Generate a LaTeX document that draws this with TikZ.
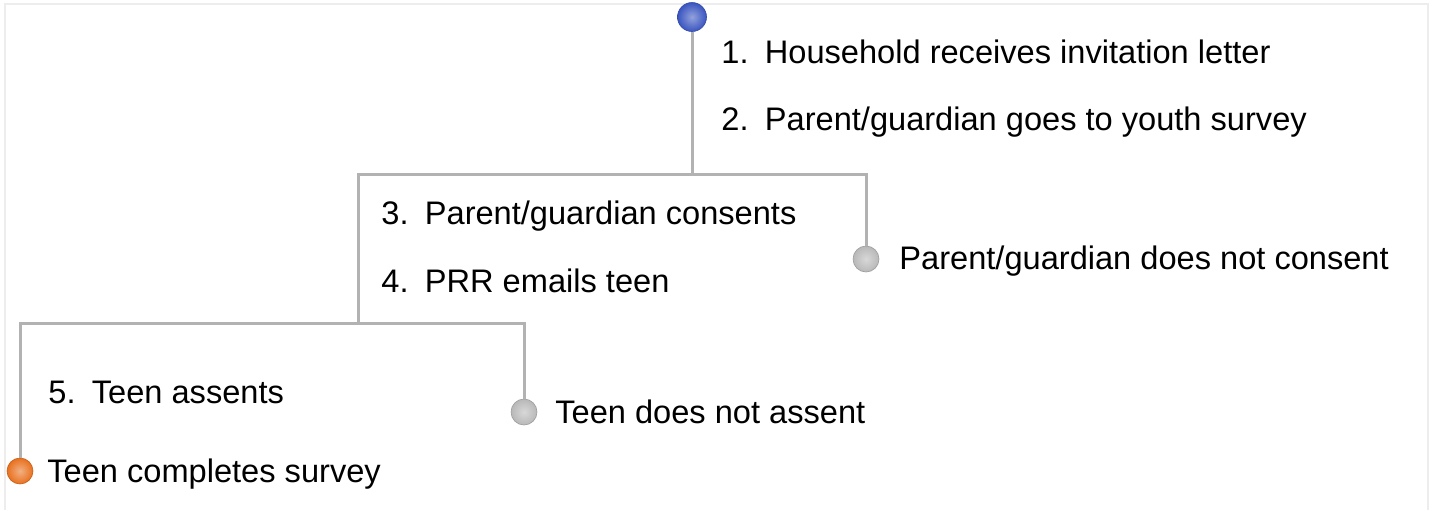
\documentclass[tikz,border=0pt]{standalone}
\usepackage{fontspec}
\setmainfont{Liberation Sans}
\usepackage{xcolor}
\usepackage{tikz}
\usetikzlibrary{calc, positioning}

\definecolor{linegray}{HTML}{B2B2B2}
\definecolor{framegray}{HTML}{EDEDED}
\definecolor{topblue}{HTML}{3A55C0}
\definecolor{pingray}{HTML}{B8B8B8}
\definecolor{pinorange}{HTML}{E8701E}

\begin{document}
\begin{tikzpicture}[x=0.5pt, y=-0.5pt,
    branch/.style={line width=1.5pt, draw=linegray, line join=miter},
    lbl/.style={anchor=base west, inner sep=0pt, font=\fontsize{16.3}{19}\selectfont},
    pin/.style={circle, inner sep=0pt, minimum size=13pt, shading=radial,
        inner color=#1!55!white, outer color=#1, draw=#1!85!black, line width=0.3pt}]

    \useasboundingbox (0,0) rectangle (1433,510);
    \draw[framegray, line width=0.8pt] (5,510) -- (5,4) -- (1428,4) -- (1428,510);

    % Nút và điểm rẽ nhánh
    \node[pin=topblue, minimum size=14.5pt] (start) at (692,17) {};
    \coordinate (split1) at (692,174);
    \coordinate (split2) at (358,323);
    \coordinate (nocon0) at (866,174);
    \coordinate (noass0) at (524,323);
    \node[pin=pingray] (nocon) at (866,259) {};
    \node[pin=pingray] (noass) at (524,412) {};
    \node[pin=pinorange] (done) at (20,471) {};

    % Đường nối
    \draw[branch] (start) -- (split1);
    \draw[branch] (split2) |- (nocon0) -- (nocon);
    \draw[branch] (done) |- (noass0) -- (noass);

    % Nhãn
    \node[lbl] (step1) at (721,63) {1.\hspace{0.5em}Household receives invitation letter};
    \node[lbl] (step2) at (721,130) {2.\hspace{0.5em}Parent/guardian goes to youth survey};
    \node[lbl] (step3) at (381,224) {3.\hspace{0.5em}Parent/guardian consents};
    \node[lbl] (step4) at (381,292) {4.\hspace{0.5em}PRR emails teen};
    \node[lbl] (step5) at (48,403) {5.\hspace{0.5em}Teen assents};
    \node[lbl] (nocontxt) at (899,269) {Parent/guardian does not consent};
    \node[lbl] (noasstxt) at (555,423) {Teen does not assent};
    \node[lbl] (donetxt) at (47,482) {Teen completes survey};

\end{tikzpicture}
\end{document}
